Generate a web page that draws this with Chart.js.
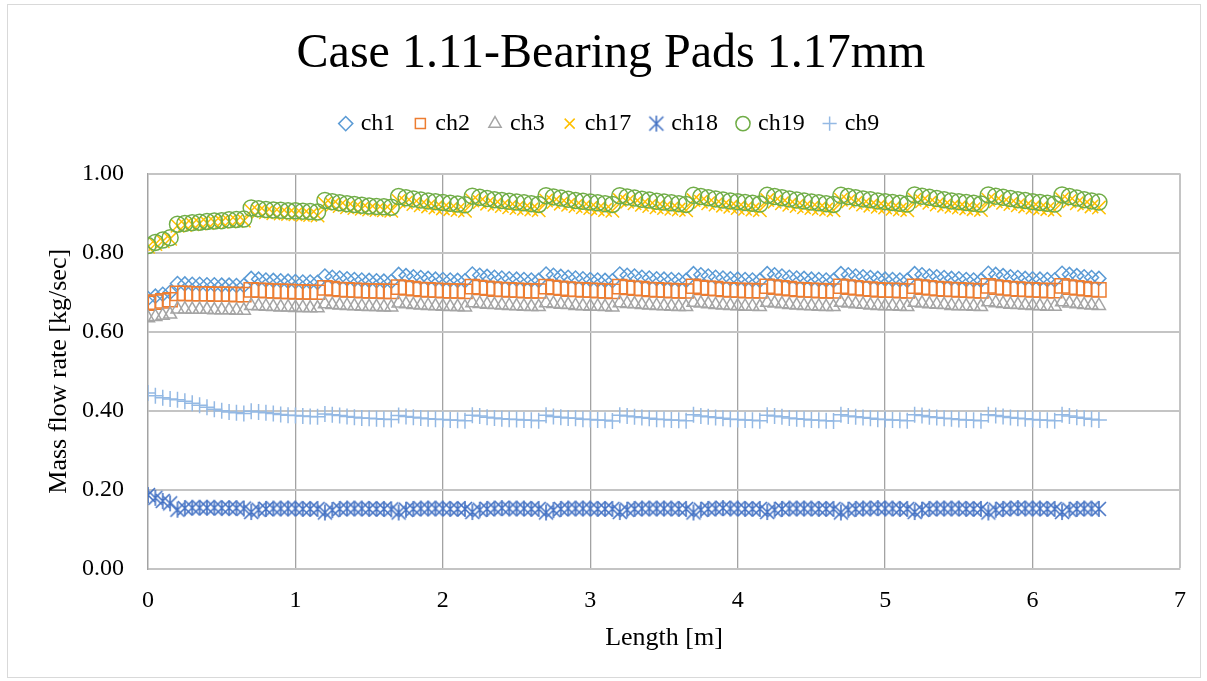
<!DOCTYPE html>
<html>
<head>
<meta charset="utf-8">
<script src="https://cdn.jsdelivr.net/npm/chart.js@4/dist/chart.umd.min.js"></script>
<style>
  html, body { margin: 0; padding: 0; background: #fff; }
  #wrap { position: absolute; left: 0; top: 0; width: 1207px; height: 681px; }
  #frame { position: absolute; left: 7px; top: 4px; width: 1192px; height: 672px; border: 1px solid #d9d9d9; pointer-events: none; }
</style>
</head>
<body>
<div id="wrap"><canvas id="chart"></canvas></div>
<div id="frame"></div>
<script>
// length along the channel [m], one reading every 0.05 m
const lengthM = [
  0.00, 0.05, 0.10, 0.15,
  0.20, 0.25, 0.30, 0.35, 0.40, 0.45, 0.50, 0.55, 0.60, 0.65,
  0.70, 0.75, 0.80, 0.85, 0.90, 0.95, 1.00, 1.05, 1.10, 1.15,
  1.20, 1.25, 1.30, 1.35, 1.40, 1.45, 1.50, 1.55, 1.60, 1.65,
  1.70, 1.75, 1.80, 1.85, 1.90, 1.95, 2.00, 2.05, 2.10, 2.15,
  2.20, 2.25, 2.30, 2.35, 2.40, 2.45, 2.50, 2.55, 2.60, 2.65,
  2.70, 2.75, 2.80, 2.85, 2.90, 2.95, 3.00, 3.05, 3.10, 3.15,
  3.20, 3.25, 3.30, 3.35, 3.40, 3.45, 3.50, 3.55, 3.60, 3.65,
  3.70, 3.75, 3.80, 3.85, 3.90, 3.95, 4.00, 4.05, 4.10, 4.15,
  4.20, 4.25, 4.30, 4.35, 4.40, 4.45, 4.50, 4.55, 4.60, 4.65,
  4.70, 4.75, 4.80, 4.85, 4.90, 4.95, 5.00, 5.05, 5.10, 5.15,
  5.20, 5.25, 5.30, 5.35, 5.40, 5.45, 5.50, 5.55, 5.60, 5.65,
  5.70, 5.75, 5.80, 5.85, 5.90, 5.95, 6.00, 6.05, 6.10, 6.15,
  6.20, 6.25, 6.30, 6.35, 6.40, 6.45
];

const ch1 = [
  0.684, 0.690, 0.695, 0.700,
  0.722, 0.721, 0.720, 0.720, 0.719, 0.719, 0.718, 0.718, 0.717, 0.717,
  0.735, 0.733, 0.731, 0.730, 0.729, 0.728, 0.727, 0.726, 0.726, 0.725,
  0.741, 0.738, 0.736, 0.734, 0.732, 0.731, 0.730, 0.729, 0.728, 0.727,
  0.745, 0.742, 0.739, 0.737, 0.735, 0.733, 0.732, 0.731, 0.730, 0.729,
  0.746, 0.743, 0.740, 0.738, 0.736, 0.734, 0.733, 0.732, 0.731, 0.730,
  0.746, 0.743, 0.740, 0.738, 0.736, 0.734, 0.732, 0.731, 0.730, 0.729,
  0.746, 0.743, 0.741, 0.738, 0.736, 0.734, 0.733, 0.732, 0.731, 0.730,
  0.747, 0.744, 0.741, 0.738, 0.736, 0.734, 0.733, 0.732, 0.731, 0.730,
  0.747, 0.744, 0.741, 0.738, 0.736, 0.735, 0.733, 0.732, 0.731, 0.730,
  0.747, 0.744, 0.741, 0.739, 0.737, 0.735, 0.733, 0.732, 0.731, 0.730,
  0.747, 0.744, 0.741, 0.739, 0.737, 0.735, 0.734, 0.732, 0.731, 0.730,
  0.748, 0.745, 0.742, 0.739, 0.737, 0.735, 0.734, 0.733, 0.732, 0.731,
  0.748, 0.745, 0.742, 0.739, 0.737, 0.735
];

const ch2 = [
  0.672, 0.675, 0.678, 0.681,
  0.697, 0.697, 0.696, 0.696, 0.696, 0.695, 0.695, 0.695, 0.694, 0.694,
  0.706, 0.705, 0.704, 0.703, 0.702, 0.702, 0.701, 0.701, 0.700, 0.700,
  0.711, 0.709, 0.707, 0.706, 0.705, 0.704, 0.703, 0.703, 0.702, 0.702,
  0.713, 0.711, 0.709, 0.707, 0.706, 0.705, 0.704, 0.703, 0.703, 0.702,
  0.714, 0.712, 0.710, 0.708, 0.707, 0.706, 0.705, 0.704, 0.703, 0.703,
  0.714, 0.712, 0.710, 0.708, 0.707, 0.706, 0.705, 0.704, 0.703, 0.702,
  0.714, 0.712, 0.710, 0.709, 0.707, 0.706, 0.705, 0.704, 0.703, 0.703,
  0.715, 0.712, 0.710, 0.709, 0.707, 0.706, 0.705, 0.704, 0.704, 0.703,
  0.715, 0.713, 0.711, 0.709, 0.707, 0.706, 0.705, 0.704, 0.703, 0.703,
  0.715, 0.713, 0.711, 0.709, 0.708, 0.706, 0.705, 0.705, 0.704, 0.703,
  0.715, 0.713, 0.711, 0.709, 0.708, 0.707, 0.706, 0.705, 0.704, 0.703,
  0.716, 0.713, 0.711, 0.709, 0.708, 0.707, 0.706, 0.705, 0.704, 0.704,
  0.716, 0.713, 0.711, 0.709, 0.707, 0.706
];

const ch3 = [
  0.635, 0.638, 0.641, 0.644,
  0.657, 0.657, 0.656, 0.656, 0.656, 0.655, 0.655, 0.655, 0.654, 0.654,
  0.666, 0.665, 0.664, 0.663, 0.662, 0.662, 0.661, 0.661, 0.660, 0.660,
  0.670, 0.668, 0.667, 0.666, 0.665, 0.664, 0.663, 0.663, 0.662, 0.662,
  0.672, 0.670, 0.668, 0.667, 0.666, 0.665, 0.664, 0.663, 0.663, 0.662,
  0.673, 0.671, 0.669, 0.668, 0.667, 0.666, 0.665, 0.664, 0.663, 0.663,
  0.673, 0.671, 0.669, 0.668, 0.666, 0.665, 0.664, 0.664, 0.663, 0.662,
  0.673, 0.671, 0.670, 0.668, 0.667, 0.666, 0.665, 0.664, 0.663, 0.663,
  0.674, 0.672, 0.670, 0.668, 0.667, 0.666, 0.665, 0.664, 0.664, 0.663,
  0.674, 0.672, 0.670, 0.668, 0.667, 0.666, 0.665, 0.664, 0.663, 0.663,
  0.674, 0.672, 0.670, 0.669, 0.667, 0.666, 0.665, 0.665, 0.664, 0.663,
  0.674, 0.672, 0.670, 0.669, 0.668, 0.666, 0.665, 0.665, 0.664, 0.663,
  0.675, 0.673, 0.671, 0.669, 0.668, 0.667, 0.666, 0.665, 0.664, 0.664,
  0.675, 0.672, 0.670, 0.668, 0.667, 0.666
];

const ch17 = [
  0.815, 0.822, 0.829, 0.835,
  0.868, 0.870, 0.872, 0.874, 0.875, 0.877, 0.878, 0.879, 0.880, 0.881,
  0.906, 0.904, 0.902, 0.900, 0.899, 0.898, 0.897, 0.896, 0.895, 0.894,
  0.924, 0.921, 0.918, 0.915, 0.913, 0.911, 0.909, 0.908, 0.907, 0.906,
  0.931, 0.927, 0.923, 0.920, 0.917, 0.914, 0.912, 0.910, 0.908, 0.906,
  0.932, 0.928, 0.924, 0.921, 0.918, 0.915, 0.913, 0.911, 0.909, 0.907,
  0.932, 0.928, 0.924, 0.921, 0.918, 0.915, 0.913, 0.910, 0.908, 0.906,
  0.933, 0.929, 0.925, 0.921, 0.918, 0.915, 0.913, 0.911, 0.909, 0.907,
  0.933, 0.929, 0.925, 0.922, 0.919, 0.916, 0.913, 0.911, 0.909, 0.907,
  0.933, 0.929, 0.925, 0.921, 0.918, 0.915, 0.913, 0.911, 0.909, 0.907,
  0.934, 0.930, 0.926, 0.922, 0.919, 0.916, 0.914, 0.911, 0.909, 0.907,
  0.934, 0.930, 0.926, 0.922, 0.919, 0.916, 0.914, 0.912, 0.910, 0.908,
  0.934, 0.930, 0.926, 0.923, 0.920, 0.917, 0.914, 0.912, 0.910, 0.908,
  0.935, 0.930, 0.925, 0.921, 0.917, 0.914
];

const ch18 = [
  0.187, 0.180, 0.172, 0.166,
  0.150, 0.154, 0.155, 0.155, 0.155, 0.155, 0.154, 0.154, 0.154, 0.153,
  0.144, 0.150, 0.152, 0.153, 0.153, 0.153, 0.153, 0.152, 0.152, 0.152,
  0.143, 0.149, 0.152, 0.153, 0.153, 0.153, 0.152, 0.152, 0.152, 0.151,
  0.143, 0.150, 0.152, 0.153, 0.153, 0.153, 0.153, 0.152, 0.152, 0.152,
  0.144, 0.150, 0.152, 0.153, 0.154, 0.153, 0.153, 0.153, 0.152, 0.152,
  0.143, 0.149, 0.152, 0.153, 0.153, 0.153, 0.153, 0.152, 0.152, 0.152,
  0.144, 0.150, 0.152, 0.153, 0.153, 0.153, 0.153, 0.153, 0.152, 0.152,
  0.143, 0.150, 0.152, 0.153, 0.154, 0.153, 0.153, 0.152, 0.152, 0.152,
  0.144, 0.150, 0.152, 0.153, 0.153, 0.153, 0.153, 0.152, 0.152, 0.152,
  0.143, 0.150, 0.152, 0.153, 0.153, 0.154, 0.153, 0.153, 0.152, 0.152,
  0.144, 0.150, 0.152, 0.153, 0.153, 0.153, 0.153, 0.152, 0.152, 0.152,
  0.143, 0.150, 0.152, 0.153, 0.154, 0.153, 0.153, 0.153, 0.152, 0.152,
  0.144, 0.150, 0.152, 0.153, 0.153, 0.152
];

const ch19 = [
  0.818, 0.826, 0.832, 0.838,
  0.872, 0.874, 0.876, 0.877, 0.879, 0.880, 0.881, 0.883, 0.884, 0.885,
  0.913, 0.911, 0.909, 0.908, 0.907, 0.906, 0.906, 0.905, 0.904, 0.903,
  0.932, 0.929, 0.926, 0.924, 0.922, 0.920, 0.918, 0.917, 0.916, 0.915,
  0.942, 0.939, 0.936, 0.933, 0.931, 0.929, 0.927, 0.925, 0.923, 0.921,
  0.943, 0.940, 0.937, 0.934, 0.932, 0.930, 0.928, 0.926, 0.924, 0.922,
  0.944, 0.941, 0.938, 0.935, 0.932, 0.930, 0.928, 0.926, 0.924, 0.922,
  0.944, 0.941, 0.938, 0.935, 0.933, 0.930, 0.928, 0.926, 0.924, 0.922,
  0.945, 0.942, 0.939, 0.936, 0.933, 0.931, 0.929, 0.927, 0.925, 0.923,
  0.945, 0.942, 0.939, 0.936, 0.933, 0.931, 0.928, 0.926, 0.924, 0.922,
  0.945, 0.942, 0.939, 0.936, 0.934, 0.931, 0.929, 0.927, 0.925, 0.923,
  0.946, 0.943, 0.940, 0.937, 0.934, 0.931, 0.929, 0.927, 0.925, 0.923,
  0.946, 0.943, 0.940, 0.937, 0.934, 0.932, 0.929, 0.927, 0.925, 0.923,
  0.946, 0.942, 0.938, 0.934, 0.931, 0.928
];

const ch9 = [
  0.445, 0.438, 0.433, 0.430,
  0.428, 0.424, 0.419, 0.414, 0.409, 0.404, 0.400, 0.397, 0.395, 0.393,
  0.399, 0.397, 0.395, 0.393, 0.391, 0.389, 0.388, 0.387, 0.386, 0.385,
  0.392, 0.390, 0.388, 0.386, 0.384, 0.382, 0.381, 0.380, 0.379, 0.378,
  0.388, 0.386, 0.384, 0.382, 0.380, 0.379, 0.378, 0.377, 0.376, 0.375,
  0.389, 0.387, 0.384, 0.382, 0.380, 0.379, 0.378, 0.377, 0.376, 0.375,
  0.389, 0.386, 0.384, 0.382, 0.381, 0.379, 0.378, 0.377, 0.376, 0.374,
  0.389, 0.387, 0.385, 0.383, 0.381, 0.379, 0.378, 0.377, 0.376, 0.375,
  0.390, 0.387, 0.385, 0.383, 0.381, 0.379, 0.378, 0.377, 0.376, 0.375,
  0.389, 0.387, 0.385, 0.382, 0.380, 0.379, 0.377, 0.376, 0.375, 0.374,
  0.390, 0.387, 0.385, 0.383, 0.381, 0.379, 0.378, 0.377, 0.376, 0.375,
  0.390, 0.388, 0.385, 0.383, 0.381, 0.380, 0.378, 0.377, 0.376, 0.375,
  0.390, 0.388, 0.386, 0.383, 0.381, 0.380, 0.378, 0.377, 0.376, 0.375,
  0.390, 0.387, 0.384, 0.381, 0.379, 0.377
];

const xTicks = [0, 1, 2, 3, 4, 5, 6, 7];
const yTicks = [0, 0.2, 0.4, 0.6, 0.8, 1.0];

const SERIF = '"Liberation Serif", "Times New Roman", serif';

// excel-like asterisk: an X with a vertical bar (chart.js "star" also has a horizontal bar)
function asteriskMarker(color) {
  const c = document.createElement("canvas");
  c.width = 18;
  c.height = 18;
  const g = c.getContext("2d");
  g.strokeStyle = color;
  g.lineWidth = 1.6;
  g.beginPath();
  g.moveTo(2, 2); g.lineTo(16, 16);
  g.moveTo(2, 16); g.lineTo(16, 2);
  g.moveTo(9, 1); g.lineTo(9, 17);
  g.stroke();
  return c;
}

// excel series order: first listed is drawn first (underneath)
const series = [
  { label: "ch1", values: ch1, color: "#5B9BD5", style: "rectRot", r: 7 },
  { label: "ch2", values: ch2, color: "#ED7D31", style: "rect", r: 10 },
  { label: "ch3", values: ch3, color: "#A5A5A5", style: "triangle", r: 7.5 },
  { label: "ch17", values: ch17, color: "#FFC000", style: "crossRot", r: 9.5 },
  { label: "ch18", values: ch18, color: "#4472C4", style: asteriskMarker("#4472C4"), r: 9 },
  { label: "ch19", values: ch19, color: "#70AD47", style: "circle", r: 8 },
  { label: "ch9", values: ch9, color: "#94B9E4", style: "cross", r: 8 },
];

const datasets = series.map((s, i) => ({
  label: s.label,
  data: lengthM.map((x, j) => ({ x: x, y: s.values[j] })),
  showLine: false,
  order: series.length - i,
  pointStyle: s.style,
  pointRadius: s.r,
  pointHoverRadius: s.r,
  pointBorderWidth: 1.5,
  pointBorderColor: s.color,
  pointBackgroundColor: "rgba(0,0,0,0)",
  borderColor: s.color,
  backgroundColor: "rgba(0,0,0,0)",
}));

new Chart(document.getElementById("chart"), {
  type: "scatter",
  data: { datasets },
  options: {
    responsive: true,
    maintainAspectRatio: false,
    animation: false,
    layout: { padding: { left: 42, right: 27, top: 0, bottom: 0 } },
    plugins: {
      tooltip: { enabled: false },
      title: {
        display: true,
        text: "Case 1.11-Bearing Pads 1.17mm",
        color: "#000",
        font: { family: SERIF, size: 48, weight: "normal" },
        padding: { top: 26, bottom: 6 },
      },
      legend: {
        position: "top",
        labels: {
          color: "#000",
          font: { family: SERIF, size: 24 },
          usePointStyle: true,
          boxWidth: 6,
          boxHeight: 10,
          padding: 22,
          sort: (a, b) => a.datasetIndex - b.datasetIndex,
        },
      },
    },
    scales: {
      x: {
        type: "linear",
        min: 0,
        max: 7,
        afterFit: (s) => { s.height = 112; },
        afterBuildTicks: (s) => { s.ticks = xTicks.map((v) => ({ value: v })); },
        ticks: {
          color: "#000",
          font: { family: SERIF, size: 24 },
          padding: 17,
          callback: (v) => String(v),
        },
        grid: {
          drawTicks: false,
          color: (c) => (c.tick && c.tick.value === 7 ? "#c4c4c4" : "#a3a3a3"),
          lineWidth: (c) => (c.tick && c.tick.value === 7 ? 2 : 1.3),
        },
        border: { color: "#c4c4c4", width: 2 },
        title: {
          display: true,
          text: "Length [m]",
          color: "#000",
          font: { family: SERIF, size: 26 },
          padding: { top: 0, bottom: 27 },
        },
      },
      y: {
        type: "linear",
        min: 0,
        max: 1,
        afterFit: (s) => { s.width = 106; },
        afterBuildTicks: (s) => { s.ticks = yTicks.map((v) => ({ value: v })); },
        ticks: {
          color: "#000",
          font: { family: SERIF, size: 24 },
          padding: 24,
          callback: (v) => Number(v).toFixed(2),
        },
        grid: { drawTicks: false, color: "#c4c4c4", lineWidth: 2 },
        border: { color: "#a3a3a3", width: 1.3 },
        title: {
          display: true,
          text: "Mass flow rate [kg/sec]",
          color: "#000",
          font: { family: SERIF, size: 26 },
          padding: { top: 2, bottom: 0 },
        },
      },
      // empty top axis, only used to leave room between legend and plot
      gap: {
        type: "linear",
        position: "top",
        display: true,
        afterFit: (s) => { s.height = 28; },
        ticks: { display: false },
        grid: { display: false, drawTicks: false },
        border: { display: false },
      },
    },
  },
});
</script>
</body>
</html>
